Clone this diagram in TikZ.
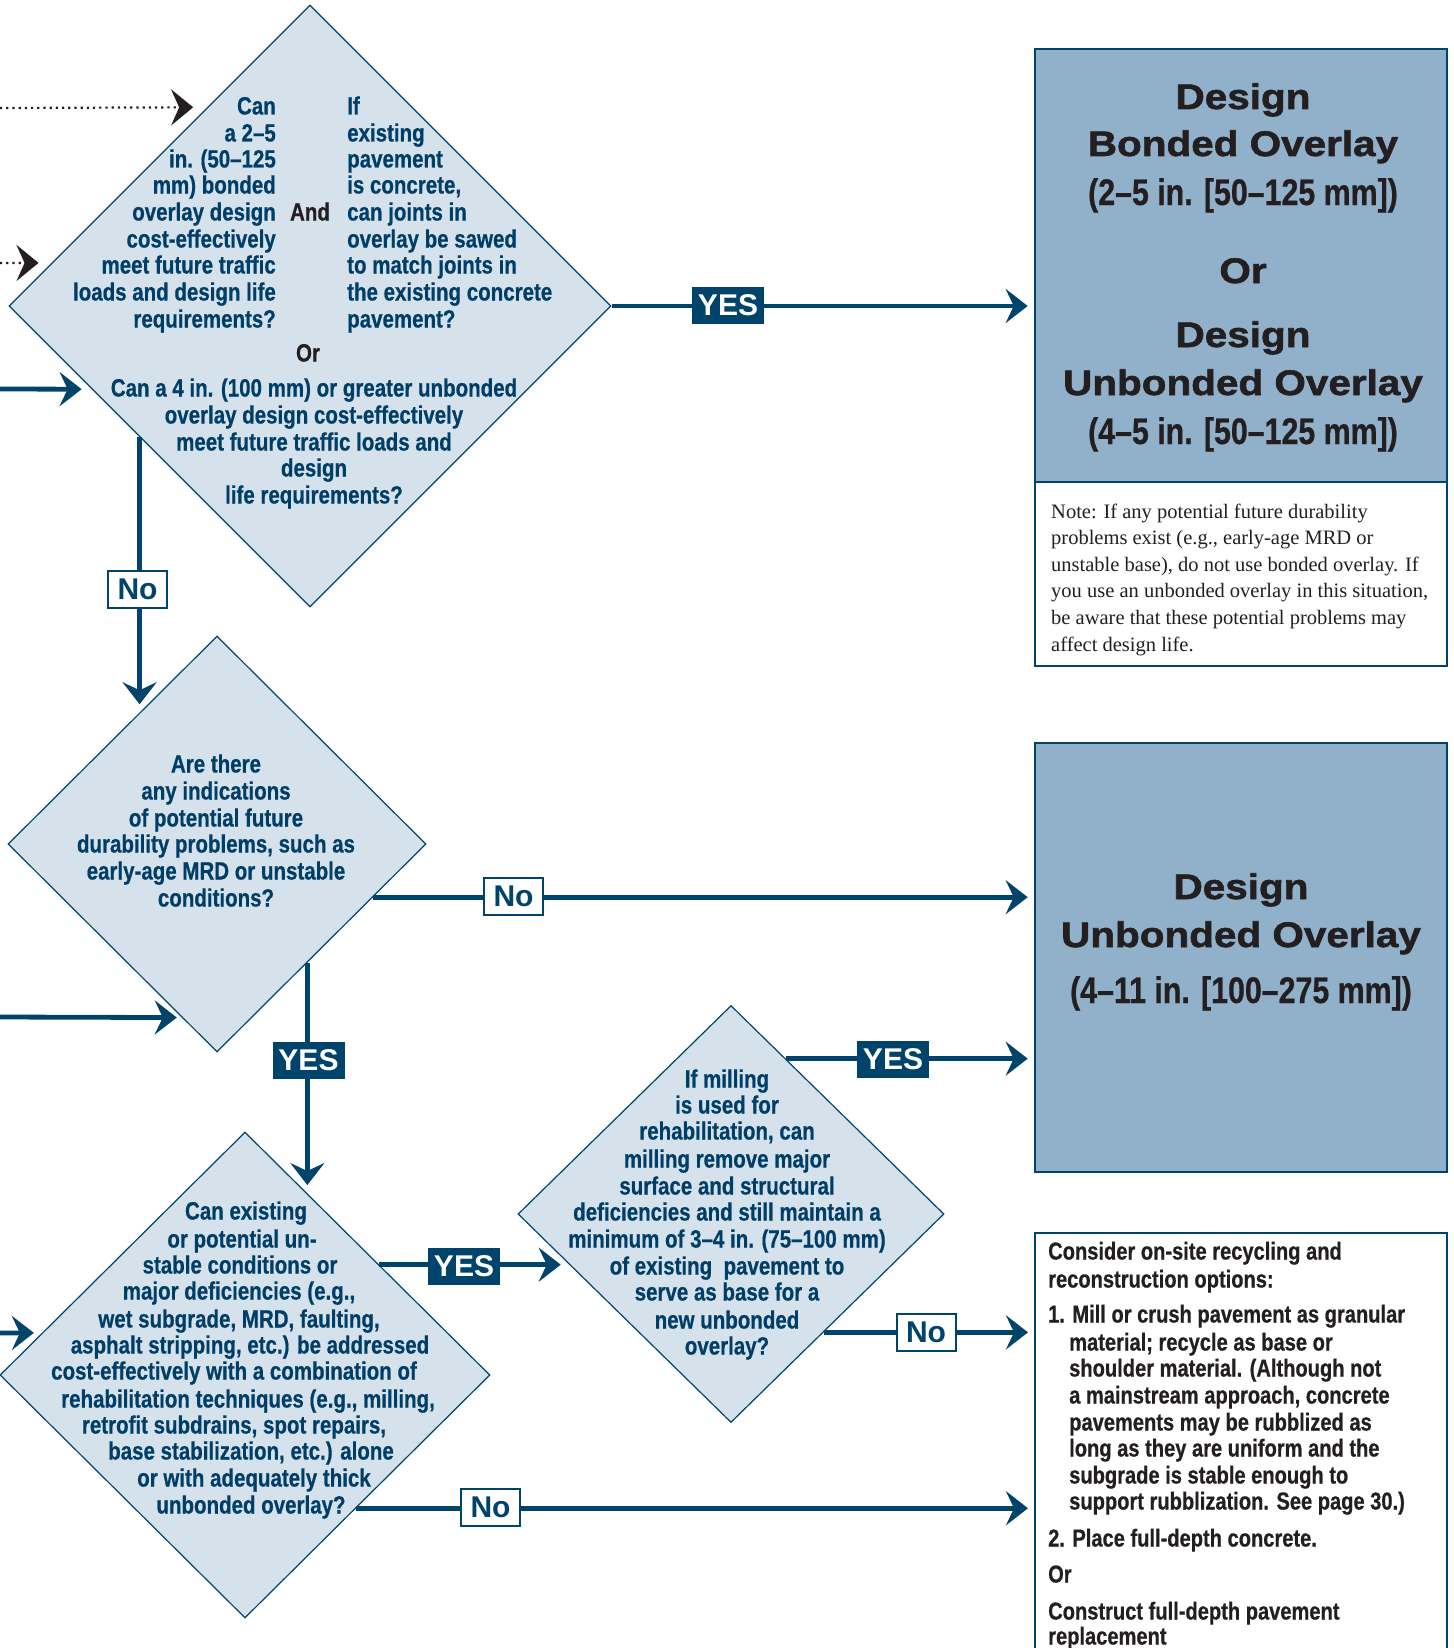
\documentclass[tikz,border=0pt]{standalone}
\usepackage{fontspec}
\setmainfont{Liberation Serif}
\newfontfamily\cnd[FakeStretch=0.82,FakeBold=0.6]{Liberation Sans}
\newfontfamily\labf{Liberation Sans}
\newfontfamily\wide[FakeStretch=1.14,FakeBold=1.6]{Liberation Sans}
\usetikzlibrary{shapes.geometric,arrows.meta,calc}
\definecolor{navy}{RGB}{0,68,108}
\definecolor{dfill}{RGB}{213,226,236}
\definecolor{bfill}{RGB}{145,176,202}
\definecolor{ink}{RGB}{0,62,104}
\definecolor{blk}{RGB}{35,31,32}
\tikzset{
  dia/.style={diamond, draw=navy, line width=1.2pt, fill=dfill, inner sep=0pt},
  bluebox/.style={rectangle, draw=navy, line width=2.6pt, fill=bfill, inner sep=0pt},
  whitebox/.style={rectangle, draw=navy, line width=2pt, fill=white, inner sep=0pt},
  q/.style={font=\cnd\bfseries\fontsize{25}{27}\selectfont, text=ink, inner sep=0pt, text height=18pt, text depth=5pt},
  qk/.style={q, text=blk},
  rb/.style={font=\cnd\bfseries\fontsize{24.5}{27}\selectfont, text=blk, inner sep=0pt, text height=18pt, text depth=5pt, anchor=west},
  ttl/.style={font=\wide\bfseries\fontsize{35.5}{40}\selectfont, text=blk, inner sep=0pt, text height=25pt, text depth=7pt},
  prn/.style={font=\cnd\bfseries\fontsize{37}{40}\selectfont, text=blk, inner sep=0pt, text height=26pt, text depth=8pt},
  note/.style={font=\fontsize{20.5}{26}\selectfont, text=blk, inner sep=0pt, text height=14pt, text depth=4pt, anchor=west},
  arr/.style={draw=navy, line width=4.8pt, -{Stealth[length=22pt,width=34pt,inset=8pt]}},
  dotarr/.style={draw=blk, line width=2.2pt, dash pattern=on 2.2pt off 4pt, -{Stealth[length=22pt,width=36pt,inset=8pt,fill=blk]}},
  yeslab/.style={rectangle, fill=navy, text=white, font=\labf\bfseries\fontsize{30}{32}\selectfont, minimum width=72pt, minimum height=37pt, inner sep=0pt},
  nolab/.style={rectangle, fill=white, draw=navy, line width=2pt, text=navy, font=\labf\bfseries\fontsize{30}{32}\selectfont, minimum width=59pt, minimum height=37pt, inner sep=0pt}
}
\begin{document}
\begin{tikzpicture}[x=1pt,y=-1pt]
\useasboundingbox[fill=white] (0,0) rectangle (1453,1648);

% right-hand boxes
\node[whitebox, minimum width=412pt, minimum height=184pt] (N1) at (1241,574) {};
\node[bluebox, minimum width=412pt, minimum height=433pt] (B1) at (1241,265.5) {};
\node[bluebox, minimum width=412pt, minimum height=429pt] (B2) at (1241,957.5) {};
\node[whitebox, minimum width=412pt, minimum height=430pt] (B3) at (1241,1448) {};

% diamonds
\node[dia, minimum width=602pt, minimum height=602pt] (D1) at (310,306) {};
\node[dia, minimum width=418pt, minimum height=416pt] (D2) at (217,844) {};
\node[dia, minimum width=490pt, minimum height=486pt] (D3) at (245,1375) {};
\node[dia, minimum width=426pt, minimum height=417pt] (D4) at (731,1214) {};

% points on the diamond borders
\coordinate (s1) at (0,108);
\coordinate (s2) at (0,263);
\coordinate (s3) at (0,389);
\coordinate (s4) at (0,1017);
\coordinate (s5) at (0,1333);
\coordinate (e1) at ($(D1.west)!0.659!(D1.north)$);
\coordinate (e2) at ($(D1.west)!0.143!(D1.north)$);
\coordinate (e3) at ($(D1.west)!0.276!(D1.south)$);
\coordinate (d1no) at ($(D1.west)!0.435!(D1.south)$);
\coordinate (d2in) at ($(D2.west)!0.6316!(D2.north)$);
\coordinate (e4) at ($(D2.west)!0.832!(D2.south)$);
\coordinate (d2no) at ($(D2.east)!0.255!(D2.south)$);
\coordinate (d2yes) at ($(D2.east)!0.569!(D2.south)$);
\coordinate (d3in) at ($(D3.north)!0.253!(D3.east)$);
\coordinate (e5) at ($(D3.west)!0.173!(D3.north)$);
\coordinate (d3yes) at ($(D3.north)!0.547!(D3.east)$);
\coordinate (d4in) at ($(D4.west)!0.245!(D4.south)$);
\coordinate (d3no) at ($(D3.east)!0.547!(D3.south)$);
\coordinate (d4yes) at ($(D4.north)!0.257!(D4.east)$);
\coordinate (d4no) at ($(D4.east)!0.566!(D4.south)$);

% connectors
\draw[dotarr, shorten >=14pt] (s1) -- (e1);
\draw[dotarr, shorten >=13pt] (s2) -- (e2);
\draw[arr, shorten >=10pt] (s3) -- (e3);
\draw[arr, shorten >=6pt] (D1.east) -- (D1.east -| B1.west);
\draw[arr, shorten >=8pt] (d1no) -- (d1no |- d2in);
\draw[arr, shorten >=6pt] (d2no) -- (d2no -| B2.west);
\draw[arr, shorten >=5pt] (s4) -- (e4);
\draw[arr, shorten >=8pt] (d2yes) -- (d2yes |- d3in);
\draw[arr, shorten >=8pt] (s5) -- (e5);
\draw[arr, shorten >=9pt] (d3yes) -- (d3yes -| d4in);
\draw[arr, shorten >=6pt] (d3no) -- (d3no -| B3.west);
\draw[arr, shorten >=6pt] (d4yes) -- (d4yes -| B2.west);
\draw[arr, shorten >=6pt] (d4no) -- (d4no -| B3.west);

% connector labels
\node[yeslab] (y1) at (728,305) {YES};
\node[nolab] (n1) at (137.5,589.5) {No};
\node[nolab] (n2) at (513.5,896) {No};
\node[yeslab] (y2) at (308.5,1060.5) {YES};
\node[yeslab] (y3) at (464,1266) {YES};
\node[nolab] (n3) at (490.5,1507.5) {No};
\node[yeslab] (y4) at (893,1059.5) {YES};
\node[nolab] (n4) at (926,1332.5) {No};

% D1 text
\foreach \yy/\tx in {108/{Can}, 135/{a 2–5}, 161/{in. (50–125}, 187/{mm) bonded}, 214/{overlay design}, 241/{cost-effectively}, 267/{meet future traffic}, 294/{loads and design life}, 321/{requirements?}}
  \node[q, anchor=east] (da-\yy) at (276,\yy) {\tx};
\foreach \yy/\tx in {108/{If}, 135/{existing}, 161/{pavement}, 187/{is concrete,}, 214/{can joints in}, 241/{overlay be sawed}, 267/{to match joints in}, 294/{the existing concrete}, 321/{pavement?}}
  \node[q, anchor=west] (db-\yy) at (347,\yy) {\tx};
\node[qk] (and) at (310,214) {And};
\node[qk] (or1) at (308,355) {Or};
\foreach \yy/\tx in {390/{Can a 4 in. (100 mm) or greater unbonded}, 417/{overlay design cost-effectively}, 444/{meet future traffic loads and}, 470/{design}, 497/{life requirements?}}
  \node[q] (dc-\yy) at (314,\yy) {\tx};

% D2 text
\foreach \yy/\tx in {766/{Are there}, 793/{any indications}, 820/{of potential future}, 846/{durability problems, such as}, 873/{early-age MRD or unstable}, 900/{conditions?}}
  \node[q] (dd-\yy) at (216,\yy) {\tx};

% D3 text
\foreach \xx/\yy/\tx in {246/1213/{Can existing}, 242/1241/{or potential un-}, 240/1267/{stable conditions or}, 239/1293/{major deficiencies (e.g.,}, 239/1321/{wet subgrade, MRD, faulting,}, 250/1347/{asphalt stripping, etc.) be addressed}, 234/1373/{cost-effectively with a combination of}, 248/1401/{rehabilitation techniques (e.g., milling,}, 234/1427/{retrofit subdrains, spot repairs,}, 251/1453/{base stabilization, etc.) alone}, 254/1480/{or with adequately thick}, 251/1507/{unbonded overlay?}}
  \node[q] (de-\yy) at (\xx,\yy) {\tx};

% D4 text
\foreach \yy/\tx in {1081/{If milling}, 1107/{is used for}, 1133/{rehabilitation, can}, 1161/{milling remove major}, 1188/{surface and structural}, 1214/{deficiencies and still maintain a}, 1241/{minimum of 3–4 in. (75–100 mm)}, 1268/{of existing\ \ pavement to}, 1294/{serve as base for a}, 1322/{new unbonded}, 1348/{overlay?}}
  \node[q] (df-\yy) at (727,\yy) {\tx};

% B1 text
\node[ttl] (t1) at (1243,100) {Design};
\node[ttl] (t2) at (1243,147) {Bonded Overlay};
\node[prn] (t3) at (1243,196) {(2–5 in. [50–125 mm])};
\node[ttl] (t4) at (1243,274) {Or};
\node[ttl] (t5) at (1243,338) {Design};
\node[ttl] (t6) at (1243,386) {Unbonded Overlay};
\node[prn] (t7) at (1243,435) {(4–5 in. [50–125 mm])};

% note
\foreach \yy/\tx in {513/{Note: If any potential future durability}, 539/{problems exist (e.g., early-age MRD or}, 566/{unstable base), do not use bonded overlay. If}, 592/{you use an unbonded overlay in this situation,}, 619/{be aware that these potential problems may}, 646/{affect design life.}}
  \node[note] (nt-\yy) at (1051,\yy) {\tx};

% B2 text
\node[ttl] (u1) at (1241,890) {Design};
\node[ttl] (u2) at (1241,938) {Unbonded Overlay};
\node[prn] (u3) at (1241,994) {(4–11 in. [100–275 mm])};

% B3 text
\foreach \xx/\yy/\tx in {1048/1253/{Consider on-site recycling and}, 1048/1281/{reconstruction options:}, 1048/1316/{1. Mill or crush pavement as granular}, 1069/1344/{material; recycle as base or}, 1069/1370/{shoulder material. (Although not}, 1069/1397/{a mainstream approach, concrete}, 1069/1424/{pavements may be rubblized as}, 1069/1450/{long as they are uniform and the}, 1069/1477/{subgrade is stable enough to}, 1069/1503/{support rubblization. See page 30.)}, 1048/1540/{2. Place full-depth concrete.}, 1048/1576/{Or}, 1048/1613/{Construct full-depth pavement}, 1048/1638/{replacement}}
  \node[rb] (r-\yy) at (\xx,\yy) {\tx};
\end{tikzpicture}
\end{document}
